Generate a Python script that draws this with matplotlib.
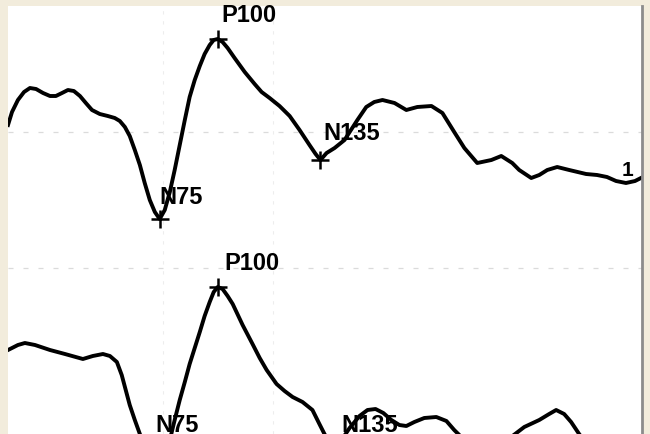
import matplotlib.pyplot as plt

# time (ms) and amplitude (uV), upper trace
t_top = [0.0, 1.9, 4.7, 7.6, 10.4, 13.3, 16.6, 19.9, 22.7, 25.6, 28.4, 31.2, 34.1,
         36.9, 39.8, 43.5, 47.3, 50.6, 53.0, 55.4, 57.7, 60.1, 62.5, 64.8, 67.2,
         69.6, 71.9, 74.3, 76.7, 79.0, 81.4, 83.8, 86.1, 88.5, 90.9, 93.2, 95.6,
         97.5, 99.4, 101.7, 104.1, 107.4, 112.2, 116.9, 120.2, 124.0, 128.7,
         133.5, 138.2, 142.9, 145.8, 148.1, 151.0, 154.8, 159.5, 165.6, 169.8,
         173.6, 177.5, 183.2, 188.8, 194.0, 200.7, 205.9, 211.5, 216.3, 222.4,
         229.1, 233.8, 239.0, 242.3, 248.0, 251.8, 255.6, 260.3, 266.0, 274.0,
         279.2, 283.9, 288.2, 292.9, 297.2, 300.0]
v_top = [0.7, 2.0, 3.2, 4.0, 4.4, 4.3, 3.9, 3.6, 3.6, 3.9, 4.2, 4.1, 3.6,
         2.9, 2.2, 1.8, 1.6, 1.4, 1.1, 0.5, -0.4, -1.8, -3.3, -5.1, -6.8,
         -8.0, -8.7, -7.8, -6.0, -3.8, -1.3, 1.2, 3.5, 5.2, 6.6, 7.8, 8.7,
         9.2, 9.3, 9.0, 8.4, 7.4, 6.0, 4.8, 4.0, 3.4, 2.6,
         1.6, 0.2, -1.3, -2.2, -2.8, -2.1, -1.6, -0.8, 1.2, 2.5,
         3.0, 3.2, 2.9, 2.2, 2.5, 2.6, 1.9, 0.0, -1.6, -3.1,
         -2.8, -2.4, -3.1, -3.8, -4.6, -4.3, -3.8, -3.5, -3.8, -4.2,
         -4.3, -4.5, -4.9, -5.1, -4.9, -4.6]

# lower trace
t_bot = [0.0, 1.9, 4.7, 8.0, 12.8, 19.9, 27.0, 35.5, 40.2, 45.0, 48.3, 51.6,
         53.9, 55.8, 57.7, 60.1, 62.5, 65.8, 69.1, 71.9, 74.3, 76.7, 79.0, 81.4,
         83.8, 86.1, 88.5, 90.9, 93.2, 95.6, 97.5, 99.4, 101.7, 104.1, 106.5,
         111.2, 115.9, 119.3, 122.6, 127.3, 131.1, 134.9, 139.6, 144.3, 147.6,
         150.0, 152.4, 155.2, 158.1, 161.9, 166.6, 170.4, 174.2, 177.9, 181.7,
         185.5, 188.8, 192.6, 197.3, 203.0, 207.8, 211.5, 216.3, 222.4, 228.1,
         232.8, 238.5, 244.7, 251.8, 256.5, 259.8, 263.6, 266.9, 270.7, 275.4,
         282.5, 289.6, 300.0]
v_bot = [-8.2, -8.0, -7.7, -7.5, -7.7, -8.2, -8.6, -9.1, -8.8, -8.6, -8.8, -9.4,
         -10.7, -12.2, -13.7, -15.2, -16.6, -18.4, -19.8, -20.4, -19.4, -17.2, -15.2, -13.2,
         -11.4, -9.6, -8.0, -6.4, -4.8, -3.4, -2.4, -1.9, -2.1, -2.8, -3.6,
         -5.7, -7.6, -9.0, -10.2, -11.6, -12.3, -12.9, -13.4, -14.2, -15.6,
         -16.6, -17.5, -17.9, -17.2, -16.0, -14.8, -14.2, -14.1, -14.5, -15.2,
         -15.7, -15.8, -15.4, -15.0, -14.9, -15.3, -16.2, -17.2, -17.9, -18.1,
         -17.8, -16.9, -15.9, -15.2, -14.6, -14.2, -14.6, -15.4, -16.6, -17.9,
         -19.0, -19.4, -19.6]

bot_offset = -13.6

peak_names = ["N75", "P100", "N135"]
top_peaks = [(71.9, -8.7), (99.4, 9.3), (148.1, -2.8)]
bot_peaks = [(71.9, -20.4), (99.4, -1.9), (155.2, -17.9)]
# label centres (t, amplitude)
top_labels = [(81.9, -6.5), (114.2, 11.6), (162.8, -0.1)]
bot_labels = [(80.0, -15.7), (115.5, 0.5), (171.3, -15.7)]

fig = plt.figure(figsize=(6.5, 4.34), dpi=100, facecolor="#f2ecdc")
ax = fig.add_axes([8 / 650, 0, 634 / 650, 428 / 434])
ax.set_facecolor("white")
ax.set_xlim(0, 300.5)
ax.set_ylim(-30.2, 12.6)

# faint dotted grid of the original recording
for y in [0, bot_offset]:
    ax.axhline(y, color="0.86", lw=0.9, ls=(0, (4, 8)), zorder=0)
for x in [73.4, 125.5]:
    ax.axvline(x, color="0.93", lw=0.8, ls=(0, (3, 6)), zorder=0)

ax.plot(t_top, v_top, color="black", lw=2.8, solid_joinstyle="round")
ax.plot(t_bot, [v + bot_offset for v in v_bot], color="black", lw=2.8,
        solid_joinstyle="round")

for name, (t, v), (lt, lv) in zip(peak_names, top_peaks, top_labels):
    ax.plot(t, v, marker="+", ms=13, mew=1.8, color="black")
    ax.text(lt, lv, name, ha="center", va="center", fontsize=17,
            fontweight="bold", family="Liberation Sans")
for name, (t, v), (lt, lv) in zip(peak_names, bot_peaks, bot_labels):
    ax.plot(t, v + bot_offset, marker="+", ms=13, mew=1.8, color="black")
    ax.text(lt, lv + bot_offset, name, ha="center", va="center", fontsize=17,
            fontweight="bold", family="Liberation Sans")

ax.text(293.4, -3.8, "1", ha="center", va="center", fontsize=15,
        fontweight="bold", family="Liberation Sans")

for side in ["left", "top", "bottom"]:
    ax.spines[side].set_visible(False)
ax.spines["right"].set_color("0.55")
ax.spines["right"].set_linewidth(2)
ax.set_xticks([])
ax.set_yticks([])

fig.savefig("out.png", dpi=100, facecolor=fig.get_facecolor())
